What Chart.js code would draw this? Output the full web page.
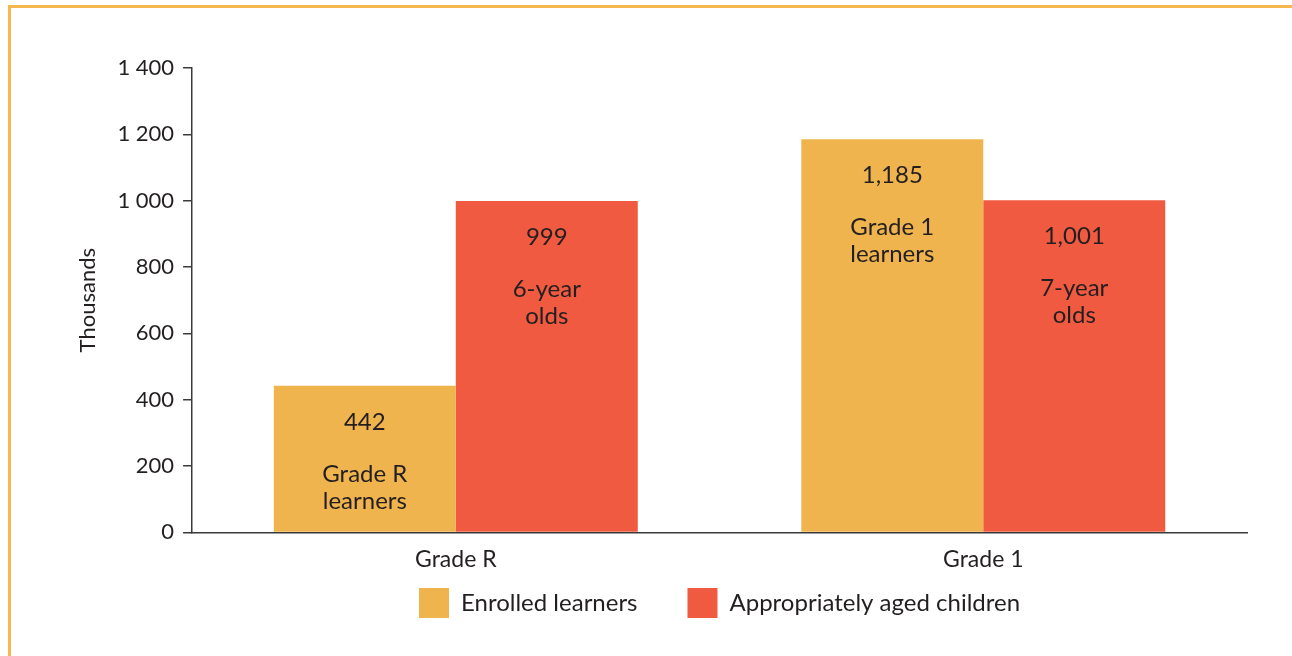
<!DOCTYPE html>
<html>
<head>
<meta charset="utf-8">
<script src="https://cdn.jsdelivr.net/npm/chart.js@4.4.1/dist/chart.umd.min.js"></script>
<style>
  html, body { margin: 0; padding: 0; background: #fff; }
  #frame {
    position: absolute; left: 8px; top: 5px; right: 0; bottom: 0;
    border-top: 3px solid #F5B84E; border-left: 3px solid #F5B84E;
  }
  #wrap { position: absolute; left: 0; top: 0; width: 1292px; height: 656px; }
</style>
</head>
<body>
<div id="frame"></div>
<div id="wrap"><canvas id="enrol-chart"></canvas></div>
<script>
// categories and values (thousands)
var categories = ['Grade R', 'Grade 1'];
var enrolled = [442, 1185];
var agedChildren = [999, 1001];
var enrolledNotes = [['Grade R', 'learners'], ['Grade 1', 'learners']];
var agedNotes = [['6-year', 'olds'], ['7-year', 'olds']];
var yTicks = [0, 200, 400, 600, 800, 1000, 1200, 1400];

var fontFamily = 'Lato, "Noto Sans", sans-serif';
var textColor = '#231f20';
var axisColor = '#3a3a3a';

function fmtComma(v) {
    return v.toLocaleString('en-US');
}
function fmtSpace(v) {
    return String(v).replace(/\B(?=(\d{3})+(?!\d))/g, ' ');
}

// writes the value and the note inside each bar
var barNotes = {
    id: 'barNotes',
    afterDatasetsDraw: function(chart) {
        var ctx = chart.ctx;
        ctx.save();
        ctx.fillStyle = textColor;
        ctx.textAlign = 'center';
        ctx.textBaseline = 'middle';
        ctx.font = '24px ' + fontFamily;
        chart.data.datasets.forEach(function(ds, i) {
            var meta = chart.getDatasetMeta(i);
            meta.data.forEach(function(bar, j) {
                var top = bar.y;
                ctx.fillText(fmtComma(ds.data[j]), bar.x, top + 36);
                ds.notes[j].forEach(function(line, k) {
                    ctx.fillText(line, bar.x, top + 88 + k * 27);
                });
            });
        });
        ctx.restore();
    }
};

var ctx = document.getElementById('enrol-chart').getContext('2d');
var chart = new Chart(ctx, {
    type: 'bar',
    data: {
        labels: categories,
        datasets: [{
            label: 'Enrolled learners',
            data: enrolled,
            notes: enrolledNotes,
            backgroundColor: '#F0B44E',
            borderWidth: 0
        }, {
            label: 'Appropriately aged children',
            data: agedChildren,
            notes: agedNotes,
            backgroundColor: '#F05A41',
            borderWidth: 0
        }]
    },
    options: {
        responsive: true,
        maintainAspectRatio: false,
        animation: false,
        devicePixelRatio: 1,
        layout: {
            padding: { left: 75, right: 45, top: 68, bottom: 28 }
        },
        datasets: {
            bar: { categoryPercentage: 0.69, barPercentage: 1.0 }
        },
        plugins: {
            legend: {
                position: 'bottom',
                fullSize: false,
                labels: {
                    boxWidth: 30,
                    boxHeight: 30,
                    padding: 2,
                    color: textColor,
                    font: { family: fontFamily, size: 24 },
                    generateLabels: function(chart) {
                        var items = Chart.defaults.plugins.legend.labels.generateLabels(chart);
                        // wider gap between the two entries
                        items[0].text = items[0].text + '\u2003\u2003\u2002';
                        return items;
                    }
                }
            },
            tooltip: { enabled: false }
        },
        scales: {
            x: {
                grid: { display: false, drawTicks: false },
                border: { display: true, color: axisColor, width: 1.5 },
                ticks: {
                    color: textColor,
                    padding: 13,
                    font: { family: fontFamily, size: 23 }
                }
            },
            y: {
                min: 0,
                max: 1400,
                afterBuildTicks: function(axis) {
                    axis.ticks = yTicks.map(function(v) { return { value: v }; });
                },
                grid: {
                    drawOnChartArea: false,
                    drawTicks: true,
                    tickLength: 9,
                    color: axisColor,
                    lineWidth: 1.5
                },
                border: { display: true, color: axisColor, width: 1.5 },
                ticks: {
                    color: textColor,
                    padding: 9,
                    font: { family: fontFamily, size: 22 },
                    callback: function(v) { return fmtSpace(v); }
                },
                title: {
                    display: true,
                    text: 'Thousands',
                    color: textColor,
                    padding: { top: 0, bottom: 7 },
                    font: { family: fontFamily, size: 22 }
                }
            }
        }
    },
    plugins: [barNotes]
});
</script>
</body>
</html>
